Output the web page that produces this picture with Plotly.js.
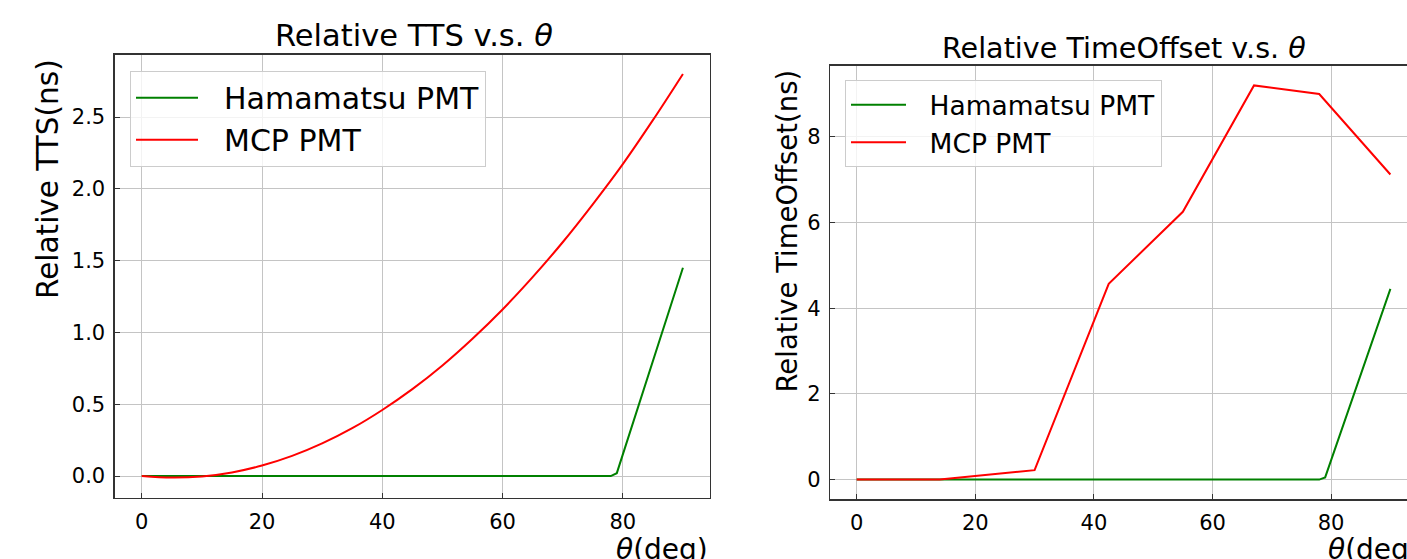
<!DOCTYPE html>
<html>
<head>
<meta charset="utf-8">
<script src="https://cdn.plot.ly/plotly-3.0.1.min.js"></script>
<style>html,body{margin:0;padding:0;background:#fff;}#chart{width:1407px;height:559px;}</style>
</head>
<body>
<div id="chart"></div>
<script>
// ---- data ----
var thetaTTS = [0, 5, 10, 15, 20, 25, 30, 35, 40, 45, 50, 55, 60, 65, 70, 75, 80, 85, 90];
var mcpTTS   = [0, -0.011, -0.003, 0.025, 0.073, 0.140, 0.227, 0.333, 0.46, 0.605, 0.77, 0.956, 1.16, 1.385, 1.628, 1.892, 2.172, 2.478, 2.8];
var hamaThetaTTS = [0, 78, 79, 90];
var hamaTTS      = [0, 0, 0.02, 1.45];

var thetaOffMCP = [0, 14, 30, 42.5, 55, 67, 78, 90];
var mcpOffset   = [0, 0, 0.22, 4.57, 6.25, 9.2, 9.0, 7.12];
var hamaThetaOff = [0, 78, 79, 90];
var hamaOffset   = [0, 0, 0.05, 4.45];

var seriesNames = ['Hamamatsu PMT', 'MCP PMT'];
var xTicks = [0, 20, 40, 60, 80];
var yTicksTTS = [0, 0.5, 1.0, 1.5, 2.0, 2.5];
var yTicksOff = [0, 2, 4, 6, 8];

// ---- layout helpers ----
var W = 1407, H = 559;
function px(x){ return x / W; }
function py(y){ return 1 - y / H; }
var FONT = 'DejaVu Sans, Verdana, sans-serif';
var GREEN = '#008000', RED = '#ff0000';
var GAP = '\u2002\u2009'; // visual gap between legend line sample and label

var traces = [
  {x: hamaThetaTTS, y: hamaTTS, name: GAP + seriesNames[0], mode: 'lines', line: {color: GREEN, width: 2}, xaxis: 'x', yaxis: 'y', legend: 'legend'},
  {x: thetaTTS, y: mcpTTS, name: GAP + seriesNames[1], mode: 'lines', line: {color: RED, width: 2, shape: 'spline', smoothing: 1}, xaxis: 'x', yaxis: 'y', legend: 'legend'},
  {x: hamaThetaOff, y: hamaOffset, name: GAP + seriesNames[0], mode: 'lines', line: {color: GREEN, width: 2}, xaxis: 'x2', yaxis: 'y2', legend: 'legend2'},
  {x: thetaOffMCP, y: mcpOffset, name: GAP + seriesNames[1], mode: 'lines', line: {color: RED, width: 2}, xaxis: 'x2', yaxis: 'y2', legend: 'legend2'}
];

function axisBase(){
  return {
    showgrid: true, gridcolor: '#c4c4c4', gridwidth: 1,
    zeroline: false, showline: true, linecolor: '#333333', linewidth: 1.3,
    ticks: 'inside', ticklen: 5, tickwidth: 1, tickcolor: '#333333',
    tickfont: {family: FONT, size: 21, color: '#000'},
    ticklabelstandoff: 4
  };
}

var xa = Object.assign(axisBase(), {domain: [px(114.7), px(710)], range: [-4.5, 94.5], tickvals: xTicks, mirror: true, anchor: 'y'});
var ya = Object.assign(axisBase(), {domain: [py(498), py(54.7)], range: [-0.153, 2.934], tickvals: yTicksTTS, tickformat: '.1f', mirror: true, anchor: 'x'});
var xa2 = Object.assign(axisBase(), {domain: [px(830), 1], range: [-4.5, 92.8], tickvals: xTicks, mirror: true, anchor: 'y2'});
var ya2 = Object.assign(axisBase(), {domain: [py(499.3), py(65.7)], range: [-0.46, 9.66], tickvals: yTicksOff, mirror: false, anchor: 'x2'});

var ann = [
  {text: 'Relative TTS v.s. <i>θ</i>', x: px(414), y: py(36), xanchor: 'center', yanchor: 'middle', font: {size: 30.5}},
  {text: 'Relative TimeOffset v.s. <i>θ</i>', x: px(1124), y: py(48), xanchor: 'center', yanchor: 'middle', font: {size: 28.6}},
  {text: 'Relative TTS(ns)', x: px(48), y: py(57), xanchor: 'center', yanchor: 'top', textangle: -90, font: {size: 29.5}},
  {text: 'Relative TimeOffset(ns)', x: px(786), y: py(68), xanchor: 'center', yanchor: 'top', textangle: -90, font: {size: 27.5}},
  {text: '<i>θ</i>(deg)', x: px(710), y: py(549), xanchor: 'right', yanchor: 'middle', font: {size: 28}},
  {text: '<i>θ</i>(deg)', x: px(1326), y: py(549), xanchor: 'left', yanchor: 'middle', font: {size: 28}}
].map(function(a){
  return Object.assign({xref: 'paper', yref: 'paper', showarrow: false}, a, {font: Object.assign({family: FONT, color: '#000'}, a.font)});
});

var layout = {
  width: W, height: H,
  margin: {l: 0, r: 0, t: 0, b: 0, pad: 0},
  paper_bgcolor: '#ffffff', plot_bgcolor: '#ffffff',
  font: {family: FONT, color: '#000'},
  xaxis: xa, yaxis: ya, xaxis2: xa2, yaxis2: ya2,
  showlegend: true,
  legend: {x: px(130), y: py(70.7), xanchor: 'left', yanchor: 'top', bgcolor: 'rgba(255,255,255,0.8)', bordercolor: '#cccccc', borderwidth: 1, font: {family: FONT, size: 30, color: '#000'}, itemwidth: 62, tracegroupgap: 0},
  legend2: {x: px(845), y: py(80), xanchor: 'left', yanchor: 'top', bgcolor: 'rgba(255,255,255,0.8)', bordercolor: '#cccccc', borderwidth: 1, font: {family: FONT, size: 26.5, color: '#000'}, itemwidth: 55, tracegroupgap: 0},
  annotations: ann
};

Plotly.newPlot('chart', traces, layout, {staticPlot: true, displayModeBar: false});
</script>
</body>
</html>
